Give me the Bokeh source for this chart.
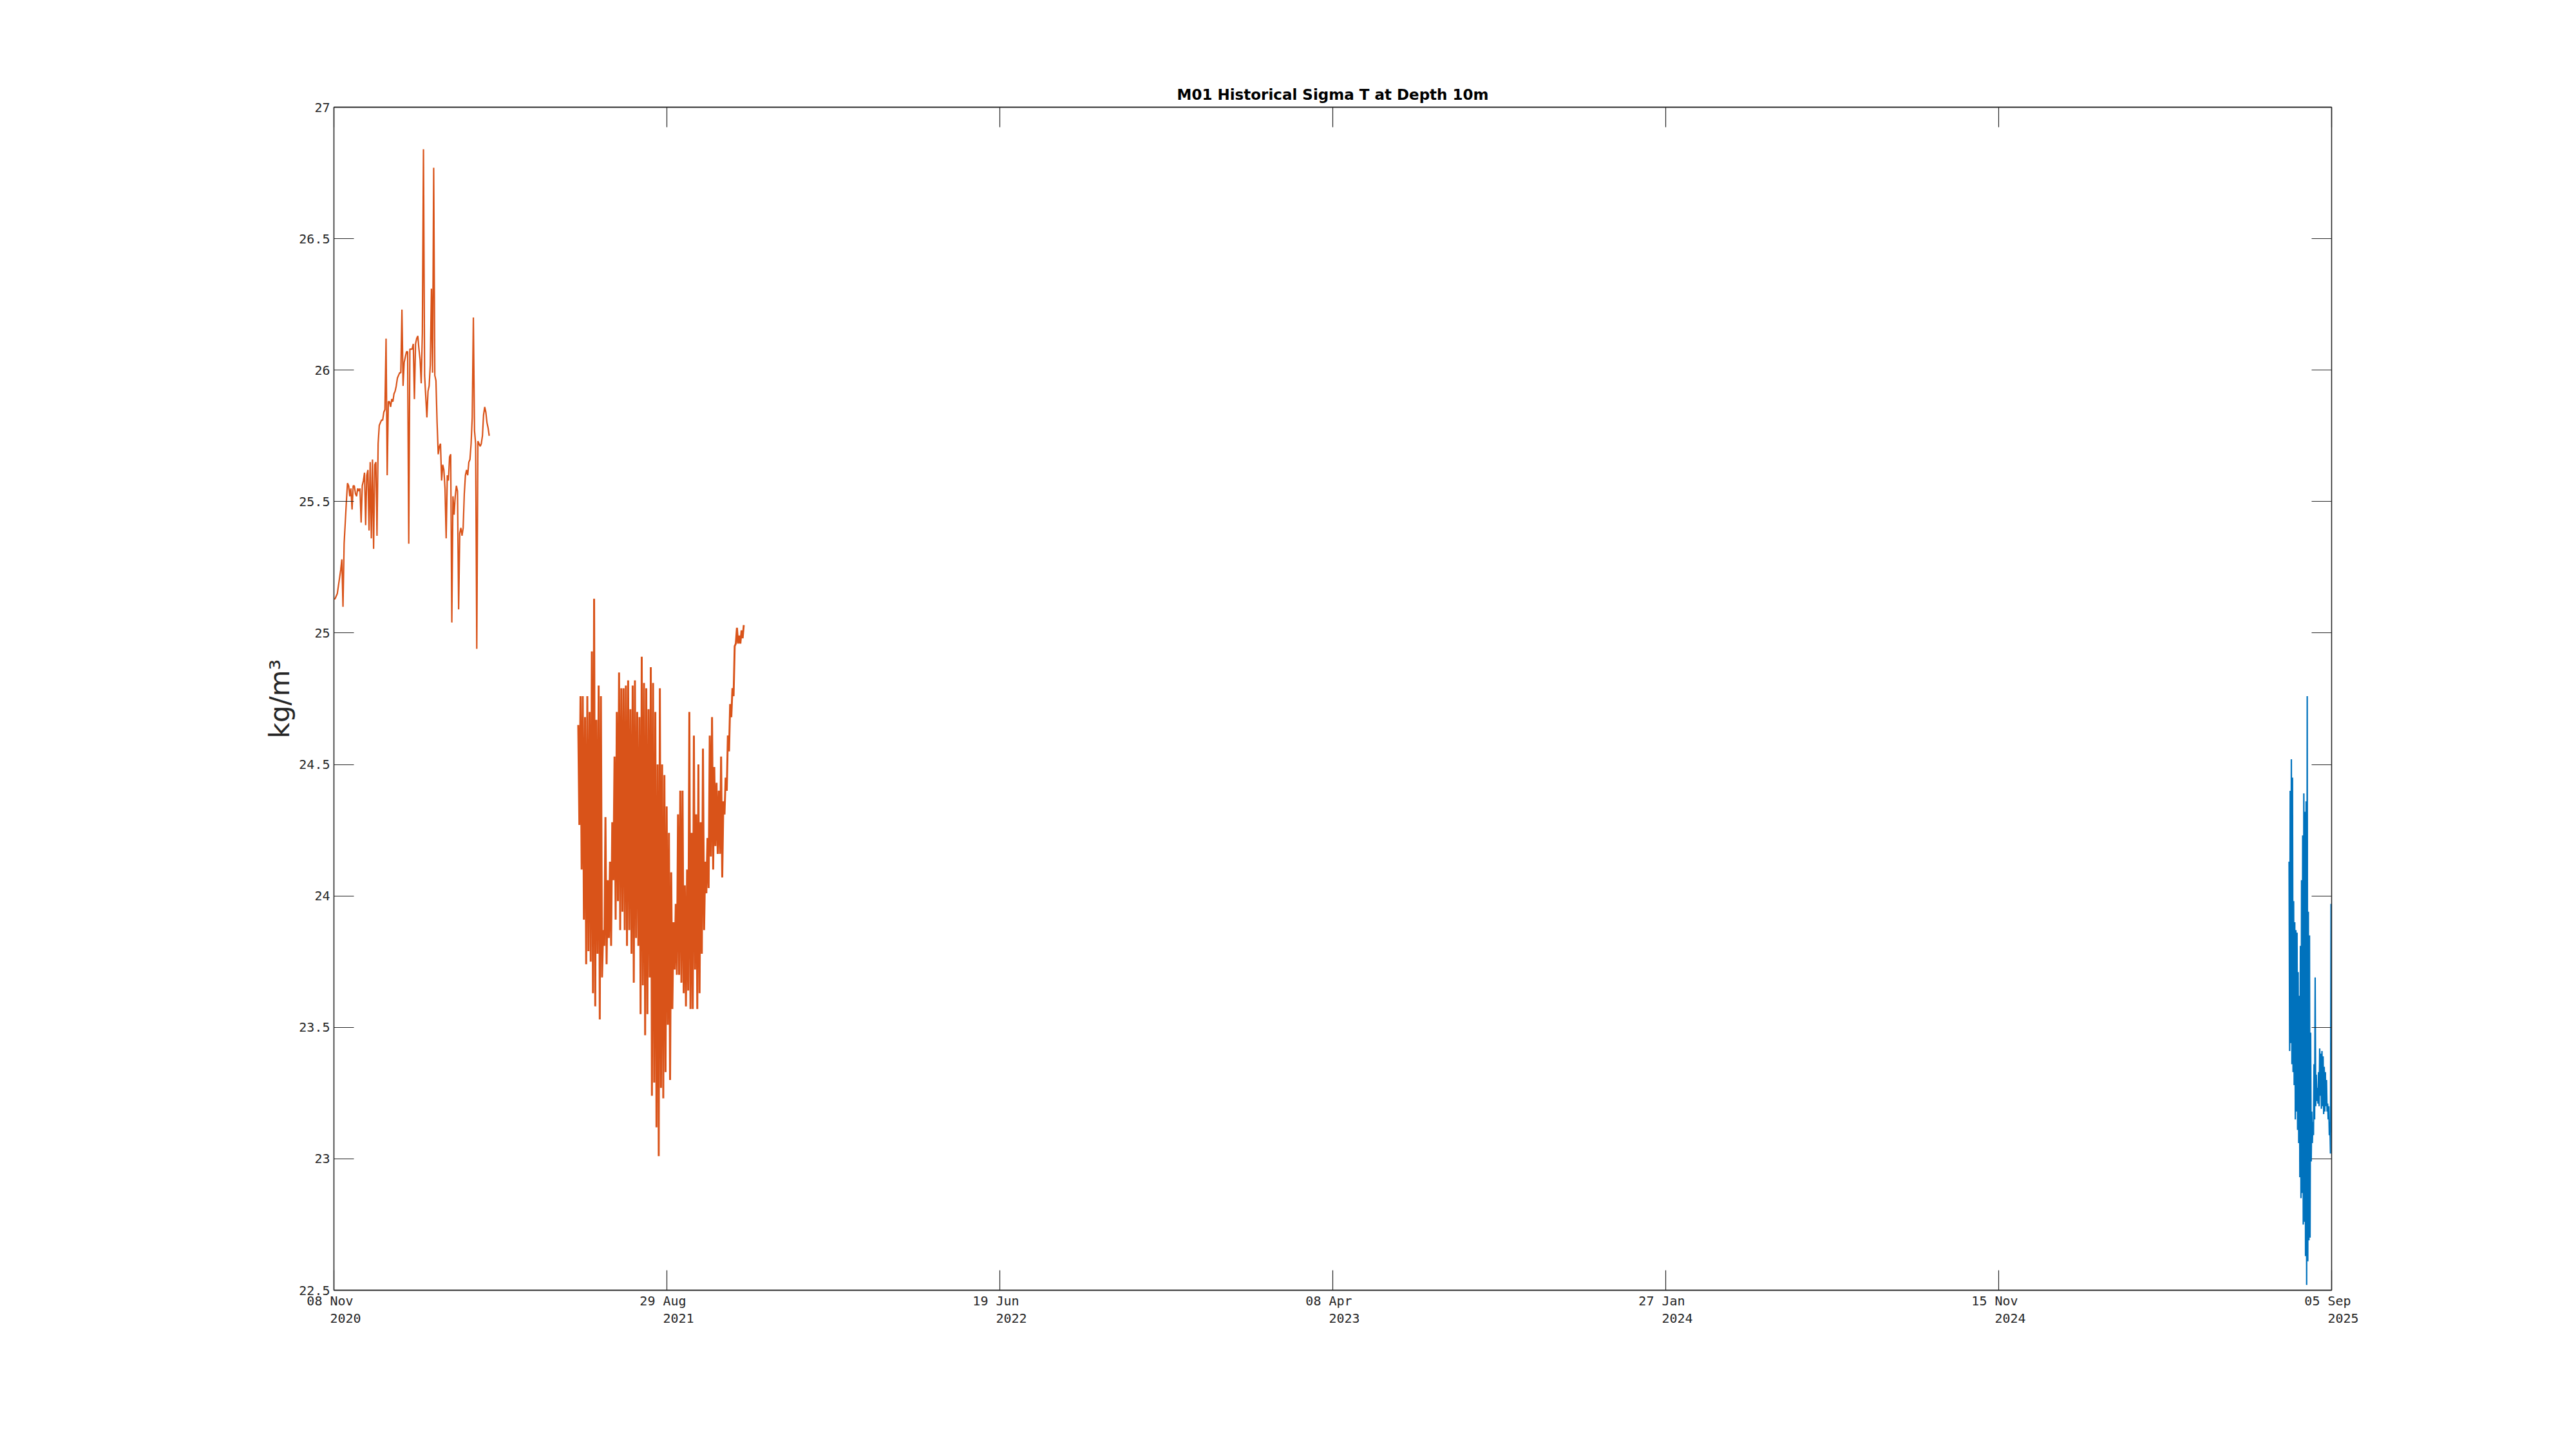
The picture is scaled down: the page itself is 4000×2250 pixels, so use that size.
import numpy as np
import pandas as pd
from bokeh.plotting import figure
from bokeh.models import (Range1d, FixedTicker, CustomJSTickFormatter, LinearAxis,
                          NumeralTickFormatter, ColumnDataSource)
from bokeh.embed import file_html
from bokeh.resources import INLINE

# ---------------- data ----------------
title_text = "M01 Historical Sigma T at Depth 10m"
y_label = "kg/m\u00b3"
y_ticks = [22.5, 23, 23.5, 24, 24.5, 25, 25.5, 26, 26.5, 27]
x_tick_day_month = ["08 Nov", "29 Aug", "19 Jun", "08 Apr", "27 Jan", "15 Nov", "05 Sep"]
x_tick_year = ["2020", "2021", "2022", "2023", "2024", "2024", "2025"]
x_start = "2020-11-08"
x_end = "2025-09-05"

# deployment 1 (orange), daily samples
seg1_start = "2020-11-08 00:00"
seg1_step = "24h"
seg1_vals = [25.13, 25.13, 25.14, 25.15, 25.18, 25.21, 25.24, 25.28, 25.10, 25.34,
             25.42, 25.50, 25.57, 25.56, 25.52, 25.55, 25.47, 25.56, 25.56, 25.53,
             25.52, 25.55, 25.54, 25.55, 25.42, 25.56, 25.58, 25.61, 25.41, 25.60,
             25.62, 25.39, 25.65, 25.36, 25.66, 25.32, 25.64, 25.65, 25.37, 25.72,
             25.79, 25.80, 25.81, 25.81, 25.84, 25.85, 26.12, 25.60, 25.88, 25.88,
             25.86, 25.89, 25.88, 25.91, 25.92, 25.94, 25.97, 25.98, 25.99, 25.99,
             26.23, 25.94, 26.03, 26.05, 26.07, 26.07, 25.34, 26.08, 26.08, 26.08,
             26.10, 25.89, 26.10, 26.12, 26.13, 26.08, 26.04, 25.95, 26.14, 26.84,
             25.98, 25.90, 25.82, 25.92, 25.94, 26.02, 26.31, 25.99, 26.77, 25.98,
             25.96, 25.80, 25.68, 25.71, 25.72, 25.58, 25.64, 25.62, 25.55, 25.36,
             25.60, 25.58, 25.67, 25.68, 25.04, 25.52, 25.45, 25.52, 25.56, 25.54,
             25.09, 25.38, 25.40, 25.37, 25.40, 25.53, 25.60, 25.62, 25.60, 25.65,
             25.66, 25.72, 25.82, 26.20, 25.77, 25.72, 24.94, 25.73, 25.72, 25.71,
             25.72, 25.75, 25.83, 25.86, 25.84, 25.80, 25.78, 25.75]

# deployment 2 (orange), daily samples
seg2_start = "2021-06-11 12:00"
seg2_step = "24h"
seg2_vals = [24.65, 24.27, 24.76, 24.10, 24.76, 23.91, 24.68, 23.74, 24.76, 23.79,
             24.70, 23.75, 24.93, 23.63, 25.13, 23.58, 24.67, 23.78, 24.80, 23.53,
             24.76, 23.69, 23.87, 23.81, 24.30, 23.74, 24.06, 23.84, 24.13, 23.81,
             24.28, 24.06, 24.53, 23.91, 24.70, 23.98, 24.85, 23.87, 24.79, 23.94,
             24.79, 23.87, 24.80, 23.81, 24.82, 23.87, 24.71, 23.78, 24.80, 23.67,
             24.82, 23.84, 24.70, 23.81, 24.68, 23.55, 24.91, 23.66, 24.81, 23.47,
             24.79, 23.55, 24.71, 23.69, 24.87, 23.24, 24.81, 23.29, 24.70, 23.12,
             24.50, 23.01, 24.79, 23.27, 24.50, 23.23, 24.46, 23.33, 24.34, 23.51,
             24.24, 23.30, 24.09, 23.57, 23.90, 23.72, 23.97, 23.70, 24.31, 23.70,
             24.40, 23.67, 24.40, 23.63, 24.04, 23.58, 24.10, 23.64, 24.70, 23.57,
             24.24, 23.57, 24.61, 23.72, 24.31, 23.57, 24.50, 23.63, 24.28, 23.78,
             24.56, 23.87, 24.13, 24.01, 24.22, 24.03, 24.61, 24.15, 24.68, 24.10,
             24.49, 24.19, 24.43, 24.16, 24.40, 24.16, 24.53, 24.07, 24.36, 24.31,
             24.45, 24.40, 24.61, 24.55, 24.73, 24.68, 24.79, 24.76, 24.95, 24.96,
             25.02, 24.96, 24.99, 24.96, 25.01, 24.98, 25.03]

# deployment 3 (blue), 12-hourly samples
seg3_start = "2025-07-29 12:00"
seg3_step = "12h"
seg3_vals = [24.13, 23.41, 24.40, 23.44, 24.52, 23.36, 24.45, 23.33, 23.98, 23.28,
             23.90, 23.15, 23.87, 23.18, 23.86, 23.11, 23.71, 23.06, 23.62, 22.93,
             23.81, 22.85, 24.06, 22.87, 24.23, 22.75, 24.39, 22.76, 24.32, 22.63,
             24.36, 22.52, 24.76, 22.61, 23.94, 22.69, 23.85, 22.70, 23.48, 22.99,
             23.18, 23.06, 23.14, 23.09, 23.36, 23.15, 23.69, 23.20, 23.32, 23.22,
             23.27, 23.21, 23.33, 23.20, 23.42, 23.24, 23.40, 23.19, 23.41, 23.20,
             23.39, 23.17, 23.35, 23.18, 23.33, 23.20, 23.30, 23.18, 23.21, 23.15,
             23.20, 23.09, 23.14, 23.02, 23.97, 23.10, 23.63]

ORANGE = "#D95319"
BLUE = "#0072BD"
AXC = "#262626"


def times(start, step, n):
    return pd.date_range(start=start, periods=n, freq=step)


def ms(ts):
    return pd.Timestamp(ts).value / 1e6


x0, x1 = ms(x_start), ms(x_end)
tick_pos = list(np.linspace(x0, x1, len(x_tick_day_month)))
nb = "\u00a0"
tick_labels = [dm + nb + "\n" + nb * 3 + yr for dm, yr in zip(x_tick_day_month, x_tick_year)]

p = figure(width=3984, height=2234, x_axis_type="datetime",
           x_range=Range1d(x0, x1), y_range=Range1d(22.5, 27),
           output_backend="svg", toolbar_location=None,
           min_border_left=518, min_border_right=364,
           min_border_top=166, min_border_bottom=231,
           background_fill_color="white", border_fill_color="white")

p.xgrid.visible = False
p.ygrid.visible = False
p.outline_line_color = AXC
p.outline_line_width = 1.3

for vals, start, step, col, lw in [(seg1_vals, seg1_start, seg1_step, ORANGE, 2.2),
                                   (seg2_vals, seg2_start, seg2_step, ORANGE, 3.0),
                                   (seg3_vals, seg3_start, seg3_step, BLUE, 2.2)]:
    src = ColumnDataSource(dict(t=times(start, step, len(vals)), v=vals))
    p.line("t", "v", source=src, line_color=col, line_width=lw)


def style_axis(ax):
    ax.major_tick_in = 31
    ax.major_tick_out = 0
    ax.minor_tick_in = 0
    ax.minor_tick_out = 0
    ax.minor_tick_line_color = None
    ax.axis_line_color = AXC
    ax.axis_line_width = 1.3
    ax.major_tick_line_color = AXC
    ax.major_tick_line_width = 1.2
    ax.major_label_text_font = "DejaVu Sans Mono"
    ax.major_label_text_font_size = "20px"
    ax.major_label_text_color = AXC


label_code = """
let best = 0; let bd = Infinity;
for (let j = 0; j < pos.length; j++) {
  const d = Math.abs(tick - pos[j]);
  if (d < bd) { bd = d; best = j; }
}
return labels[best];
"""

xa = p.xaxis[0]
style_axis(xa)
xa.ticker = FixedTicker(ticks=tick_pos)
xa.formatter = CustomJSTickFormatter(args=dict(pos=tick_pos, labels=tick_labels), code=label_code)
xa.major_label_standoff = 4
xa.major_label_text_line_height = 1.15

ya = p.yaxis[0]
style_axis(ya)
ya.ticker = FixedTicker(ticks=y_ticks)
ya.formatter = NumeralTickFormatter(format="0.[0]")
ya.major_label_standoff = 6
ya.axis_label = y_label
ya.axis_label_text_font = "DejaVu Sans"
ya.axis_label_text_font_size = "42px"
ya.axis_label_text_font_style = "normal"
ya.axis_label_text_color = AXC
ya.axis_label_standoff = 2

blank = CustomJSTickFormatter(code="return '';")
top = LinearAxis(ticker=FixedTicker(ticks=tick_pos), formatter=blank)
style_axis(top)
top.major_label_text_font_size = "0px"
top.major_label_standoff = 0
p.add_layout(top, "above")

right = LinearAxis(ticker=FixedTicker(ticks=y_ticks), formatter=blank)
style_axis(right)
right.major_label_text_font_size = "0px"
right.major_label_standoff = 0
p.add_layout(right, "right")

p.title.text = title_text
p.title.align = "center"
p.title.text_font = "DejaVu Sans"
p.title.text_font_size = "23px"
p.title.text_font_style = "bold"
p.title.text_color = "black"
p.title.standoff = 13

open("out.html", "w").write(file_html(p, INLINE))
